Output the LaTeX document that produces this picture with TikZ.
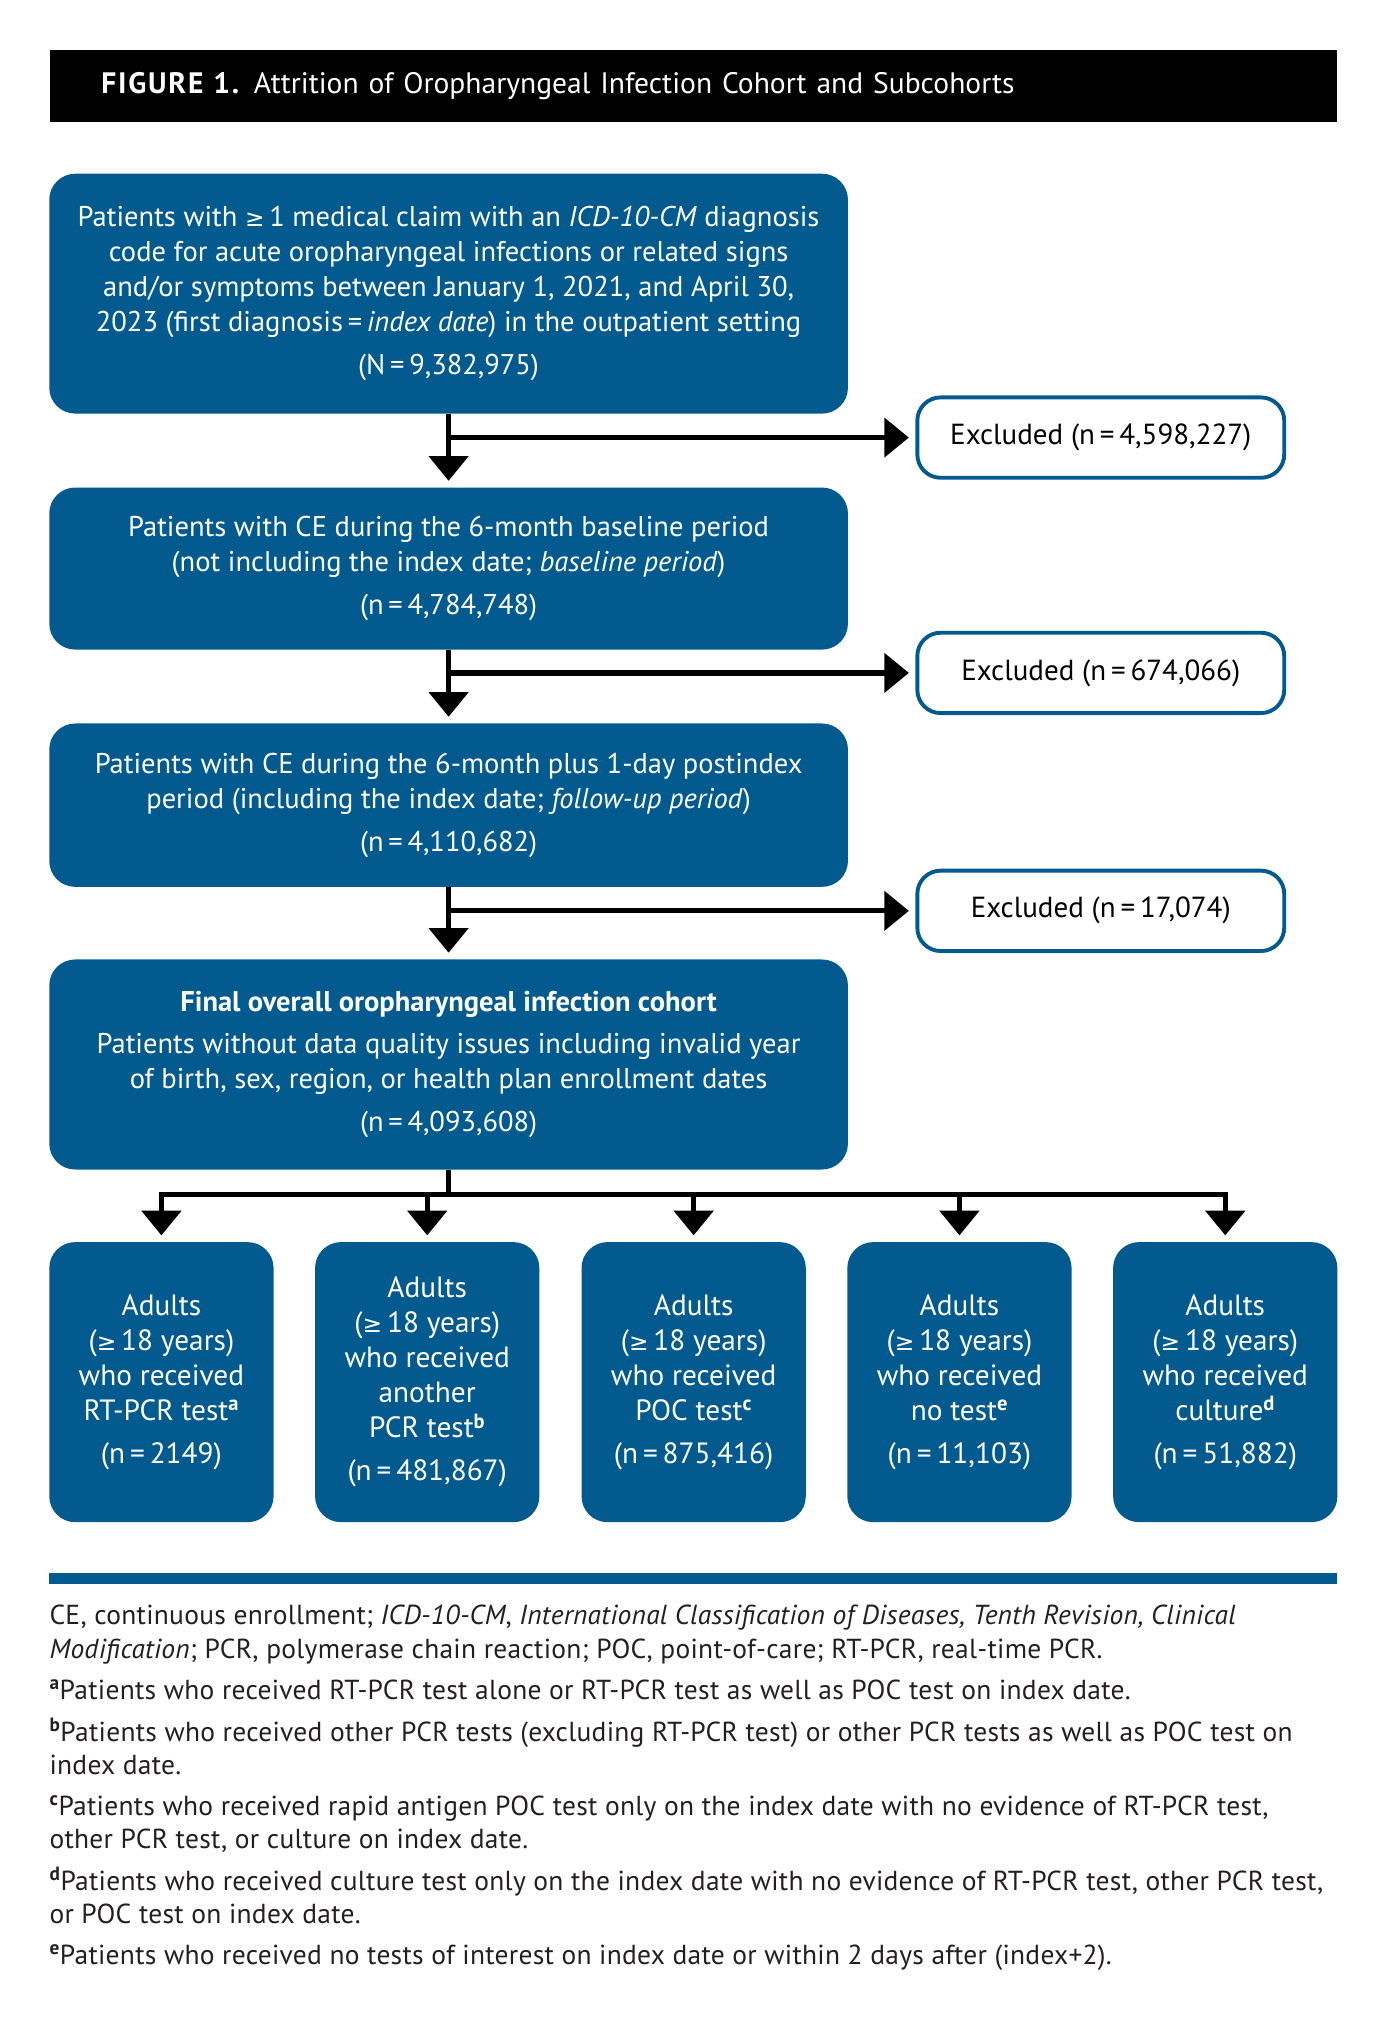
\documentclass[tikz,border=0pt]{standalone}
\usepackage{fontspec}
\setmainfont{PT Sans}
\newfontfamily\symf{DejaVu Sans}
\newcommand{\geqs}{{\symf\fontsize{18}{20}\selectfont ≥}}
\usetikzlibrary{arrows.meta,calc}
\definecolor{pblue}{RGB}{2,90,143}
\definecolor{fntext}{RGB}{35,31,32}
\begin{document}
\begin{tikzpicture}[x=1pt,y=-1pt,
  bluebox/.style={fill=pblue, rounded corners=20pt, text=white, align=center, inner sep=0pt,
    font=\fontsize{22}{27}\selectfont},
  botbox/.style={bluebox, minimum width=173pt, minimum height=216pt, font=\fontsize{22.6}{27}\selectfont},
  exbox/.style={draw=pblue, line width=3pt, fill=white, rounded corners=18pt, align=center,
    inner sep=0pt, minimum width=283pt, minimum height=62pt, font=\fontsize{22.4}{27}\selectfont},
  conn/.style={line width=4pt, draw=black},
  arr/.style={conn, -{Triangle[width=30pt,length=19pt]}, shorten >=5pt},
]
\useasboundingbox (0,0) rectangle (1070,1568);

% title bar
\node[fill=black, text=white, anchor=north west, minimum height=56pt, inner xsep=40pt, inner ysep=0pt,
  text width=913pt, align=left, font=\fontsize{22.8}{25}\selectfont] (title) at (38,38)
  {{\bfseries\addfontfeature{LetterSpace=6}FIGURE 1.} Attrition of Oropharyngeal Infection Cohort and Subcohorts};

% main boxes
\node[bluebox, minimum width=616pt, minimum height=185pt] (b1) at (346,226.5)
  {Patients with \geqs\,1 medical claim with an \textit{ICD-10-CM} diagnosis\\
   code for acute oropharyngeal infections or related signs\\
   and/or symptoms between January 1, 2021, and April 30,\\
   2023 (first diagnosis\,=\,\textit{index date}) in the outpatient setting\\[6pt]
   (N\,=\,9,382,975)};
\node[bluebox, minimum width=616pt, minimum height=125pt] (b2) at (346,438.5)
  {Patients with CE during the 6-month baseline period\\
   (not including the index date; \textit{baseline period})\\[6pt]
   (n\,=\,4,784,748)};
\node[bluebox, minimum width=616pt, minimum height=126pt] (b3) at (346,621)
  {Patients with CE during the 6-month plus 1-day postindex\\
   period (including the index date; \textit{follow-up period})\\[6pt]
   (n\,=\,4,110,682)};
\node[bluebox, minimum width=616pt, minimum height=162pt] (b4) at (346,821)
  {\textbf{Final overall oropharyngeal infection cohort}\\[6pt]
   Patients without data quality issues including invalid year\\
   of birth, sex, region, or health plan enrollment dates\\[6pt]
   (n\,=\,4,093,608)};

% excluded boxes
\node[exbox] (e1) at (849,337.5) {Excluded (n\,=\,4,598,227)};
\node[exbox] (e2) at (849,519) {Excluded (n\,=\,674,066)};
\node[exbox] (e3) at (849,702.5) {Excluded (n\,=\,17,074)};

% bottom boxes
\node[botbox] (c1) at (124.5,1066) {Adults\\(\geqs\,18 years)\\who received\\RT-PCR test\textsuperscript{\bfseries a}\\[6pt](n\,=\,2149)};
\node[botbox] (c2) at (329.5,1066) {Adults\\(\geqs\,18 years)\\who received\\another\\PCR test\textsuperscript{\bfseries b}\\[6pt](n\,=\,481,867)};
\node[botbox] (c3) at (535,1066) {Adults\\(\geqs\,18 years)\\who received\\POC test\textsuperscript{\bfseries c}\\[6pt](n\,=\,875,416)};
\node[botbox] (c4) at (740,1066) {Adults\\(\geqs\,18 years)\\who received\\no test\textsuperscript{\bfseries e}\\[6pt](n\,=\,11,103)};
\node[botbox] (c5) at (945,1066) {Adults\\(\geqs\,18 years)\\who received\\culture\textsuperscript{\bfseries d}\\[6pt](n\,=\,51,882)};

% connectors
\draw[arr] (b1) -- (b2);
\draw[arr] (b2) -- (b3);
\draw[arr] (b3) -- (b4);
\draw[arr] ([xshift=-2pt]b1.south |- e1.west) -- (e1.west);
\draw[arr] ([xshift=-2pt]b2.south |- e2.west) -- (e2.west);
\draw[arr] ([xshift=-2pt]b3.south |- e3.west) -- (e3.west);

\coordinate (sp) at ($(b4.south)+(0,19)$);
\draw[conn] (b4.south) -- ([yshift=-2pt]sp);
\draw[conn] ([xshift=-2pt]sp -| c1) -- ([xshift=2pt]sp -| c5);
\foreach \c in {c1,c2,c3,c4,c5}{
  \draw[arr] ([yshift=2pt]sp -| \c) -- (\c.north);
}

% rule
\fill[pblue] (38,1213) rectangle (1031,1222);

% footnotes
\node[anchor=north west, align=left, inner sep=0pt, text=fntext,
  font=\fontsize{21.2}{25.5}\selectfont\addfontfeature{LetterSpace=1}] (fn) at (38,1238)
  {CE, continuous enrollment; \textit{ICD-10-CM}, \textit{International Classification of Diseases, Tenth Revision, Clinical}\\
   \textit{Modification}; PCR, polymerase chain reaction; POC, point-of-care; RT-PCR, real-time PCR.\\[6.5pt]
   \textsuperscript{\bfseries a}Patients who received RT-PCR test alone or RT-PCR test as well as POC test on index date.\\[6.5pt]
   \textsuperscript{\bfseries b}Patients who received other PCR tests (excluding RT-PCR test) or other PCR tests as well as POC test on\\
   index date.\\[6.5pt]
   \textsuperscript{\bfseries c}Patients who received rapid antigen POC test only on the index date with no evidence of RT-PCR test,\\
   other PCR test, or culture on index date.\\[6.5pt]
   \textsuperscript{\bfseries d}Patients who received culture test only on the index date with no evidence of RT-PCR test, other PCR test,\\
   or POC test on index date.\\[6.5pt]
   \textsuperscript{\bfseries e}Patients who received no tests of interest on index date or within 2 days after (index+2).};
\end{tikzpicture}
\end{document}
